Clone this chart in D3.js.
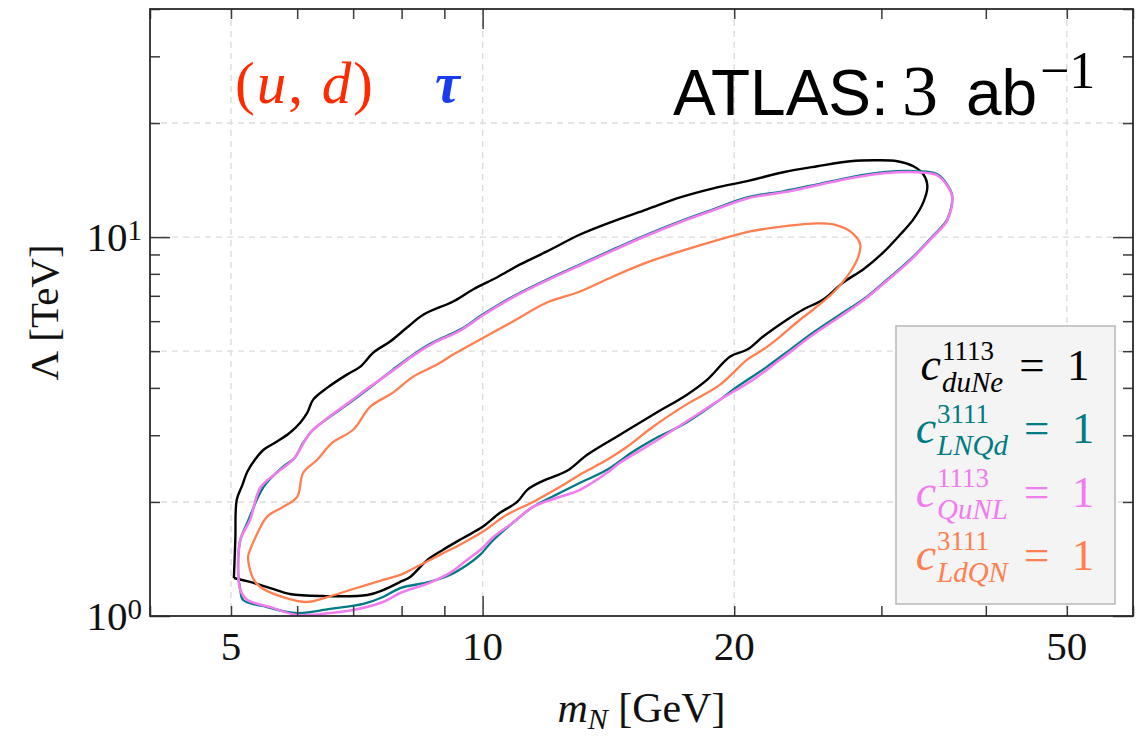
<!DOCTYPE html>
<html><head><meta charset="utf-8">
<script src="https://cdn.jsdelivr.net/npm/d3@7"></script>
<style>body{margin:0;background:#fff} svg{display:block}</style>
</head><body>
<svg id="c" width="1145" height="736"></svg>
<script>
// ---------- data ----------
const xDomain = [4, 60];
const yDomain = [1, 40];
const xTickLabels = [5, 10, 20, 50];
const xMinorTicks = [4, 5, 6, 7, 8, 9, 20, 30, 40, 50, 60];
const xMajorTicks = [10];
const yMajorTicks = [1, 10];
const yMinorTicks = [2, 3, 4, 5, 6, 7, 8, 9, 20, 30, 40];
const xGrid = [5, 10, 20, 50];
const yGrid = [2, 5, 10, 20];

const contour_duNe = [[5.04,1.260],[5.06,1.588],[5.08,2.026],[5.16,2.219],[5.23,2.403],[5.34,2.585],[5.47,2.747],[5.67,2.884],[5.88,3.046],[6.05,3.237],[6.17,3.441],[6.27,3.724],[6.52,4.006],[6.88,4.336],[7.14,4.552],[7.40,4.958],[7.75,5.301],[8.12,5.773],[8.50,6.247],[9.22,6.763],[9.74,7.275],[10.40,7.826],[11.09,8.470],[11.94,9.169],[13.08,10.16],[14.33,11.01],[15.73,11.84],[17.23,12.73],[18.88,13.45],[20.90,14.12],[22.89,14.83],[25.14,15.38],[27.53,15.86],[29.66,15.95],[31.34,15.86],[32.76,15.38],[33.67,14.65],[34.05,13.62],[33.67,12.35],[32.76,11.14],[31.60,10.16],[30.16,9.113],[28.53,8.217],[27.00,7.592],[25.56,6.845],[24.19,6.441],[23.15,6.061],[21.66,5.465],[20.73,5.049],[19.78,4.838],[18.57,4.206],[17.56,3.839],[15.99,3.399],[14.60,3.009],[13.34,2.664],[12.62,2.417],[11.81,2.274],[11.31,2.153],[11.00,2.000],[10.49,1.872],[10.00,1.719],[9.48,1.607],[8.96,1.494],[8.59,1.406],[8.19,1.268],[7.97,1.230],[7.60,1.171],[7.28,1.136],[6.44,1.129],[5.88,1.143],[5.57,1.185],[5.27,1.230]];

const contour_LNQd = [[5.13,1.588],[5.10,1.299],[5.13,1.171],[5.17,1.102],[5.52,1.056],[6.00,1.018],[6.57,1.044],[7.20,1.076],[7.60,1.122],[7.97,1.185],[8.64,1.230],[9.14,1.284],[9.58,1.364],[9.93,1.450],[10.30,1.588],[10.87,1.762],[11.49,1.941],[12.38,2.114],[13.08,2.247],[14.09,2.432],[15.13,2.714],[15.99,2.919],[17.52,3.237],[19.24,3.724],[19.94,3.958],[21.90,4.552],[23.34,5.049],[24.87,5.600],[26.78,6.247],[28.53,6.845],[30.49,7.732],[32.49,8.733],[34.52,10.04],[35.97,11.14],[36.47,12.81],[36.07,13.62],[35.00,14.65],[33.12,14.92],[30.16,14.83],[27.53,14.38],[25.14,13.78],[22.89,13.21],[20.73,12.73],[18.88,11.84],[17.23,11.01],[15.73,10.16],[14.33,9.281],[13.08,8.470],[11.94,7.732],[10.87,6.972],[10.00,6.247],[9.40,5.703],[8.71,5.269],[8.26,4.897],[7.81,4.470],[7.28,3.958],[6.94,3.657],[6.57,3.358],[6.27,3.102],[6.10,2.866],[5.96,2.617],[5.77,2.477],[5.47,2.193],[5.23,1.762]];

const contour_QuNL = [[5.13,1.588],[5.10,1.299],[5.13,1.171],[5.23,1.102],[5.57,1.056],[6.00,1.006],[6.57,1.018],[7.00,1.037],[7.60,1.089],[7.97,1.150],[8.64,1.223],[9.14,1.299],[9.58,1.406],[10.00,1.512],[10.30,1.617],[10.87,1.762],[11.49,1.941],[12.38,2.063],[13.08,2.153],[14.09,2.388],[14.60,2.538],[15.99,2.866],[17.52,3.257],[19.24,3.724],[21.07,4.206],[22.70,4.751],[24.87,5.532],[26.78,6.173],[28.53,6.804],[30.49,7.685],[32.49,8.680],[34.52,9.980],[35.97,11.07],[36.47,12.73],[36.07,13.54],[35.00,14.56],[33.12,14.83],[30.16,14.74],[27.53,14.30],[25.14,13.70],[22.89,13.13],[20.73,12.65],[18.88,11.77],[17.23,10.95],[15.73,10.10],[14.33,9.225],[13.08,8.419],[11.94,7.685],[10.87,6.930],[10.00,6.210],[9.40,5.668],[8.71,5.237],[8.26,4.868],[7.81,4.443],[7.28,3.982],[6.94,3.679],[6.44,3.257],[6.22,3.046],[5.93,2.585],[5.67,2.388],[5.42,2.180],[5.27,1.794]];

const contour_LdQN = [[5.27,1.494],[5.24,1.432],[5.31,1.260],[5.42,1.193],[5.77,1.122],[6.17,1.089],[6.52,1.122],[6.94,1.171],[7.60,1.245],[7.97,1.284],[8.42,1.364],[8.89,1.450],[9.48,1.559],[10.00,1.668],[10.69,1.849],[11.49,2.000],[12.38,2.193],[13.19,2.388],[14.09,2.585],[14.89,2.797],[15.99,3.159],[17.52,3.613],[19.24,4.081],[20.73,4.751],[21.66,5.049],[22.70,5.465],[23.99,6.061],[24.87,6.441],[26.28,7.144],[27.30,7.874],[28.07,8.733],[28.30,9.569],[27.53,10.35],[26.28,10.80],[25.14,10.87],[22.89,10.67],[20.90,10.35],[18.88,9.742],[17.23,9.169],[15.73,8.575],[14.33,7.874],[13.08,7.187],[11.94,6.721],[10.87,5.988],[9.93,5.366],[9.22,4.897],[8.82,4.608],[8.26,4.284],[7.81,3.887],[7.34,3.568],[7.00,3.102],[6.61,2.866],[6.34,2.585],[6.10,2.388],[6.00,2.063],[5.77,1.941],[5.52,1.827],[5.38,1.657]];

const seriesData = [contour_duNe, contour_LNQd, contour_QuNL, contour_LdQN];
const seriesSup = ["1113", "3111", "1113", "3111"];
const seriesSub = ["duNe", "LNQd", "QuNL", "LdQN"];
const seriesColors = ["#000000", "#007b84", "#f07cf0", "#ff7f50"];
const seriesWidths = [2.4, 2.3, 2.6, 2.3];
const seriesSharpStart = [true, false, false, false];

// ---------- layout ----------
const svg = d3.select("#c");
const P = {l:150, t:9, r:1133, b:616};
const x = d3.scaleLog().domain(xDomain).range([P.l, P.r]);
const y = d3.scaleLog().domain(yDomain).range([P.b, P.t]);
const SERIF = "'Liberation Serif','DejaVu Serif',serif";
const SANS = "'Liberation Sans',Arial,sans-serif";

// grid
const grid = svg.append("g").attr("stroke","#dcdcdc").attr("stroke-width",1.4).attr("stroke-dasharray","6,5");
grid.selectAll("line.gx").data(xGrid).join("line").attr("class","gx")
  .attr("x1",d=>x(d)).attr("x2",d=>x(d)).attr("y1",P.t).attr("y2",P.b);
grid.selectAll("line.gy").data(yGrid).join("line").attr("class","gy")
  .attr("y1",d=>y(d)).attr("y2",d=>y(d)).attr("x1",P.l).attr("x2",P.r);

// contours
svg.append("clipPath").attr("id","clip").append("rect")
  .attr("x",P.l).attr("y",P.t).attr("width",P.r-P.l).attr("height",P.b-P.t);
const closedLine = d3.line().x(d=>x(d[0])).y(d=>y(d[1])).curve(d3.curveCatmullRomClosed.alpha(0.5));
const openLine = d3.line().x(d=>x(d[0])).y(d=>y(d[1])).curve(d3.curveCatmullRom.alpha(0.5));
svg.append("g").attr("clip-path","url(#clip)").selectAll("path").data(seriesData).join("path")
  .attr("d", (d,i)=> seriesSharpStart[i] ? openLine(d.concat([d[0]])) : closedLine(d))
  .attr("fill","none")
  .attr("stroke",(d,i)=>seriesColors[i]).attr("stroke-width",(d,i)=>seriesWidths[i])
  .attr("stroke-linejoin","round");

// ticks (inward) via d3 axes
function tickAxis(gen, tx, ty, vals, len){
  const g = svg.append("g").attr("transform",`translate(${tx},${ty})`)
    .call(gen.tickValues(vals).tickSize(-len).tickFormat(""));
  g.select(".domain").remove();
  g.selectAll("line").attr("stroke","#3a3a3a").attr("stroke-width",1.5);
}
tickAxis(d3.axisBottom(x), 0, P.b, xMinorTicks, 10);
tickAxis(d3.axisBottom(x), 0, P.b, xMajorTicks, 20);
tickAxis(d3.axisTop(x), 0, P.t, xMinorTicks, 10);
tickAxis(d3.axisTop(x), 0, P.t, xMajorTicks, 20);
tickAxis(d3.axisLeft(y), P.l, 0, yMinorTicks, 10);
tickAxis(d3.axisLeft(y), P.l, 0, yMajorTicks, 20);
tickAxis(d3.axisRight(y), P.r, 0, yMinorTicks, 10);
tickAxis(d3.axisRight(y), P.r, 0, yMajorTicks, 20);

// frame
svg.append("rect").attr("x",P.l).attr("y",P.t).attr("width",P.r-P.l).attr("height",P.b-P.t)
  .attr("fill","none").attr("stroke","#2a2a2a").attr("stroke-width",1.8);

// x tick labels
svg.append("g").selectAll("text").data(xTickLabels).join("text")
  .attr("x",d=>x(d)).attr("y",660).attr("text-anchor","middle")
  .attr("font-family",SERIF).attr("font-size",41).attr("fill","#111").text(d=>d);

// y tick labels 10^n
const yl = svg.append("g").selectAll("text").data(yMajorTicks).join("text")
  .attr("x",142).attr("y",d=>y(d)+14).attr("text-anchor","end")
  .attr("font-family",SERIF).attr("font-size",41).attr("fill","#111");
yl.append("tspan").text("10");
yl.append("tspan").attr("font-size",29).attr("dy",-11).text(d=>Math.round(Math.log10(d)));

// axis labels
const xl = svg.append("text").attr("x",(P.l+P.r)/2).attr("y",722).attr("text-anchor","middle")
  .attr("font-family",SERIF).attr("font-size",42).attr("fill","#111");
xl.append("tspan").attr("font-style","italic").text("m");
xl.append("tspan").attr("font-style","italic").attr("font-size",30).attr("dy",7).text("N");
xl.append("tspan").attr("dy",-7).text(" [GeV]");

svg.append("text").attr("transform",`translate(58,${(P.t+P.b)/2}) rotate(-90)`)
  .attr("text-anchor","middle").attr("font-family",SERIF).attr("font-size",41).attr("fill","#111")
  .text("Λ [TeV]");

// annotations
const ud = svg.append("text").attr("x",235).attr("y",103).attr("font-family",SERIF)
  .attr("font-size",59).attr("letter-spacing",2).attr("fill","#ff2a00");
ud.append("tspan").text("(");
ud.append("tspan").attr("font-style","italic").text("u");
ud.append("tspan").text(", ");
ud.append("tspan").attr("font-style","italic").text("d");
ud.append("tspan").text(")");

svg.append("text").attr("x",435).attr("y",102).attr("font-family",SERIF).attr("font-size",56)
  .attr("font-style","italic").attr("font-weight","bold").attr("fill","#1a3cf0").text("τ");

svg.append("text").attr("x",673).attr("y",115).attr("font-family",SANS).attr("font-size",64).attr("fill","#000").text("ATLAS:");
svg.append("text").attr("x",902).attr("y",115).attr("font-family",SERIF).attr("font-size",72).attr("fill","#000").text("3");
svg.append("text").attr("x",966).attr("y",115).attr("font-family",SANS).attr("font-size",64).attr("fill","#000").text("ab");
svg.append("text").attr("x",1040).attr("y",88).attr("font-family",SERIF).attr("font-size",52).attr("fill","#000").text("−1");

// legend
svg.append("rect").attr("x",896).attr("y",326).attr("width",219).attr("height",278)
  .attr("fill","#f4f4f4").attr("stroke","#b8b8b8").attr("stroke-width",1.5);
const legendCenter = 1005;
seriesColors.forEach((col,i)=>{
  const base = 380 + i*63.3;
  const tmp = svg.append("g").attr("font-family",SERIF);
  const cw = tmp.append("text").attr("font-size",46).attr("font-style","italic").text("c").node().getComputedTextLength();
  const spw = tmp.append("text").attr("font-size",27).text(seriesSup[i]).node().getComputedTextLength();
  const sbw = tmp.append("text").attr("font-size",29).attr("font-style","italic").text(seriesSub[i]).node().getComputedTextLength();
  const eqw = tmp.append("text").attr("font-size",45).text("=\u20021").node().getComputedTextLength();
  tmp.remove();
  const w2 = Math.max(spw, sbw);
  const total = cw + 1 + w2 + 16 + eqw;
  const x0 = legendCenter - total/2;
  const t = svg.append("text").attr("fill",col).attr("font-family",SERIF).attr("y",base);
  t.append("tspan").attr("x",x0).attr("y",base).attr("font-size",46).attr("font-style","italic").text("c");
  t.append("tspan").attr("x",x0+cw+1).attr("y",base-20).attr("font-size",27).text(seriesSup[i]);
  t.append("tspan").attr("x",x0+cw+1).attr("y",base+12).attr("font-size",29).attr("font-style","italic").text(seriesSub[i]);
  t.append("tspan").attr("x",x0+cw+1+w2+16).attr("y",base).attr("font-size",45).text("=\u20021");
});
</script>
</body></html>
